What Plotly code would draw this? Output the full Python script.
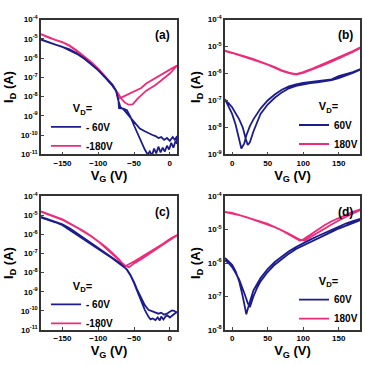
import numpy as np
import plotly.graph_objects as go

BLUE = "#1c1c8c"
PINK = "#ee2a7b"
FONT = "Arial, Liberation Sans, sans-serif"

# ---------- panel (a): V_D = -60 V / -180 V  (log10 of I_D) ----------
a_blue_vg = [-180, -170, -160, -150, -140, -130, -120, -110, -100, -90, -80, -75, -72, -71, -65, -60,
             -55, -50, -45, -40, -35, -31, -28, -25, -22, -19, -16, -13, -10, -7, -4, -1, 2, 5, 8, 10,
             10, 7, 4, 0, -4, -8, -12, -16, -20, -25, -30, -35, -42, -50, -55, -60, -65, -69, -72, -75,
             -80, -90, -100, -110, -120, -130, -140, -150, -160, -170, -180]
a_blue_log = [-5.05, -5.18, -5.28, -5.40, -5.55, -5.75, -6.0, -6.3, -6.62, -7.0, -7.4, -7.7, -8.15, -8.6, -8.62, -8.7,
              -9.05, -9.5, -9.95, -10.35, -10.75, -11.0, -10.85, -11.05, -10.7, -10.95, -10.6, -10.9, -10.65, -10.85, -10.55, -10.75, -10.4, -10.65, -10.3, -10.45,
              -10.05, -10.25, -10.1, -10.3, -10.15, -10.25, -10.1, -10.15, -10.05, -9.98, -9.9, -9.8, -9.66, -9.3, -9.05, -8.85, -8.65, -8.55, -8.2, -7.72,
              -7.45, -7.03, -6.64, -6.32, -6.02, -5.78, -5.58, -5.42, -5.3, -5.17, -5.03]

a_pink_vg = [-180, -170, -160, -150, -140, -130, -120, -110, -100, -90, -80, -75, -72, -68, -60, -50, -40, -33, -20, -10, 0, 10,
             10, 0, -10, -20, -33, -45, -52, -58, -63, -68, -72, -76, -80, -90, -100, -110, -120, -130, -140, -150, -160, -170, -180]
a_pink_log = [-4.75, -4.92, -5.05, -5.17, -5.35, -5.6, -5.88, -6.2, -6.55, -6.95, -7.38, -7.7, -8.1, -8.05, -7.9, -7.75, -7.55, -7.32, -7.05, -6.82, -6.6, -6.38,
              -6.4, -6.8, -7.1, -7.4, -7.69, -8.1, -8.4, -8.42, -8.3, -8.1, -7.85, -7.62, -7.42, -6.97, -6.57, -6.22, -5.9, -5.62, -5.37, -5.18, -5.06, -4.93, -4.76]

# ---------- panel (b): V_D = 60 V / 180 V ----------
b_blue_vg = [-10, -5, 0, 5, 10, 13, 17, 20, 25, 30, 40, 50, 60, 70, 80, 90, 100, 110, 120, 130, 140, 150, 160, 170, 180,
             180, 170, 160, 150, 140, 130, 120, 110, 100, 90, 80, 70, 60, 50, 40, 35, 30, 25, 22, 19, 15, 10, 5, 0, -5, -10]
b_blue_log = [-6.95, -7.2, -7.5, -7.9, -8.4, -8.78, -8.6, -8.3, -7.95, -7.7, -7.3, -7.0, -6.78, -6.6, -6.48, -6.4, -6.35, -6.32, -6.3, -6.27, -6.22, -6.1, -6.03, -5.95, -5.84,
              -5.86, -5.98, -6.08, -6.17, -6.25, -6.3, -6.33, -6.36, -6.4, -6.46, -6.55, -6.7, -6.9, -7.15, -7.5, -7.8, -8.15, -8.55, -8.65, -8.4, -8.0, -7.7, -7.45, -7.25, -7.1, -7.0]

b_pink_vg = [-10, 0, 10, 20, 30, 40, 50, 60, 70, 80, 90, 100, 110, 120, 130, 140, 150, 160, 170, 180,
             180, 170, 160, 150, 140, 130, 120, 110, 100, 90, 80, 70, 60, 50, 40, 30, 20, 10, 0, -10]
b_pink_log = [-5.15, -5.22, -5.3, -5.38, -5.47, -5.56, -5.65, -5.76, -5.88, -5.97, -6.02, -5.95, -5.85, -5.74, -5.64, -5.53, -5.42, -5.3, -5.17, -5.04,
              -5.06, -5.2, -5.33, -5.45, -5.56, -5.67, -5.77, -5.88, -5.98, -6.04, -5.99, -5.9, -5.78, -5.67, -5.58, -5.49, -5.4, -5.32, -5.24, -5.17]

# ---------- panel (c): V_D = -60 V / -180 V ----------
c_blue_vg = [-180, -170, -160, -150, -140, -130, -120, -110, -100, -90, -80, -70, -60, -55, -50, -45, -40, -35, -30, -27, -24, -20, -17, -14, -12, -9, -6, -3, 0, 5, 10,
             10, 6, 3, 0, -4, -8, -12, -16, -20, -25, -30, -35, -40, -45, -50, -55, -60, -70, -80, -90, -100, -110, -120, -130, -140, -150, -160, -170, -180]
c_blue_log = [-5.08, -5.2, -5.33, -5.47, -5.68, -5.95, -6.22, -6.47, -6.72, -6.97, -7.23, -7.5, -7.85, -8.15, -8.55, -9.05, -9.5, -9.95, -10.3, -10.45, -10.4, -10.48, -10.35, -10.5, -10.3, -10.45, -10.3, -10.25, -10.35, -10.2, -10.05,
              -10.1, -10.0, -9.98, -10.05, -10.15, -10.2, -10.1, -10.15, -10.1, -10.05, -9.95, -9.7, -9.35, -8.95, -8.5, -8.12, -7.83, -7.52, -7.26, -7.02, -6.77, -6.52, -6.28, -6.02, -5.75, -5.52, -5.37, -5.23, -5.12]

c_pink_vg = [-180, -170, -160, -150, -140, -130, -120, -110, -100, -90, -80, -70, -64, -60, -50, -40, -30, -20, -10, 0, 10,
             10, 0, -10, -20, -30, -40, -50, -57, -62, -70, -80, -90, -100, -110, -120, -130, -140, -150, -160, -170, -180]
c_pink_log = [-4.8, -4.95, -5.08, -5.22, -5.42, -5.62, -5.84, -6.08, -6.35, -6.65, -6.98, -7.35, -7.68, -7.62, -7.42, -7.2, -6.97, -6.75, -6.5, -6.25, -6.03,
              -6.05, -6.3, -6.55, -6.82, -7.05, -7.3, -7.52, -7.72, -7.65, -7.38, -7.0, -6.67, -6.37, -6.1, -5.86, -5.64, -5.44, -5.24, -5.1, -4.97, -4.82]

# ---------- panel (d): V_D = 60 V / 180 V ----------
d_blue_vg = [-10, -5, 0, 5, 10, 15, 20, 23, 27, 30, 40, 50, 60, 70, 80, 90, 100, 110, 120, 130, 140, 150, 160, 170, 180,
             180, 170, 160, 150, 140, 130, 120, 110, 100, 90, 80, 70, 60, 50, 40, 35, 30, 25, 22, 18, 14, 10, 5, 0, -5, -10]
d_blue_log = [-5.85, -5.95, -6.05, -6.25, -6.55, -7.0, -7.53, -7.3, -7.0, -6.82, -6.45, -6.18, -5.97, -5.8, -5.65, -5.52, -5.4, -5.3, -5.2, -5.1, -5.0, -4.9, -4.82, -4.75, -4.68,
              -4.72, -4.8, -4.88, -4.97, -5.07, -5.17, -5.27, -5.37, -5.47, -5.58, -5.72, -5.88, -6.05, -6.27, -6.55, -6.75, -7.0, -7.32, -7.2, -6.95, -6.7, -6.5, -6.3, -6.12, -6.0, -5.92]

d_pink_vg = [-10, 0, 10, 20, 30, 40, 50, 60, 70, 80, 90, 95, 100, 110, 120, 130, 140, 150, 160, 170, 180,
             180, 170, 160, 150, 140, 130, 120, 110, 102, 95, 90, 80, 70, 60, 50, 40, 30, 20, 10, 0, -10]
d_pink_log = [-4.48, -4.52, -4.57, -4.63, -4.7, -4.77, -4.84, -4.93, -5.03, -5.14, -5.26, -5.33, -5.3, -5.15, -5.0, -4.87, -4.75, -4.65, -4.55, -4.47, -4.4,
              -4.42, -4.52, -4.62, -4.73, -4.85, -4.98, -5.1, -5.23, -5.33, -5.3, -5.25, -5.13, -5.02, -4.92, -4.83, -4.76, -4.69, -4.62, -4.56, -4.5, -4.47]

neg_labels = ["- 60V", "-180V"]
pos_labels = ["60V", "180V"]
panel_tags = ["(a)", "(b)", "(c)", "(d)"]

fig = go.Figure()

panels = [
    (a_blue_vg, a_blue_log, a_pink_vg, a_pink_log, neg_labels, "x", "y", "legend"),
    (b_blue_vg, b_blue_log, b_pink_vg, b_pink_log, pos_labels, "x2", "y2", "legend2"),
    (c_blue_vg, c_blue_log, c_pink_vg, c_pink_log, neg_labels, "x3", "y3", "legend3"),
    (d_blue_vg, d_blue_log, d_pink_vg, d_pink_log, pos_labels, "x4", "y4", "legend4"),
]

for bx, by, px, py, labs, xa, ya, lg in panels:
    fig.add_trace(go.Scatter(x=px, y=np.power(10.0, py), mode="lines", name=labs[1],
                             line=dict(color=PINK, width=1.8), xaxis=xa, yaxis=ya, legend=lg))
    fig.add_trace(go.Scatter(x=bx, y=np.power(10.0, by), mode="lines", name=labs[0],
                             line=dict(color=BLUE, width=1.8), xaxis=xa, yaxis=ya, legend=lg,
                             legendrank=1))

def sup_ticks(lo, hi):
    vals = [10.0 ** e for e in range(lo, hi + 1)]
    txt = ["10<sup>%d</sup>" % e for e in range(lo, hi + 1)]
    return vals, txt

tickfont = dict(family=FONT, size=8, color="black", weight="bold")
titlefont = dict(family=FONT, size=13, color="black", weight="bold")

def xaxis(domain, rng, ticks):
    return dict(domain=domain, range=rng, tickvals=ticks, ticks="inside", ticklen=3,
                showline=True, mirror=True, linecolor="#333", linewidth=1.5,
                showgrid=False, zeroline=False, tickfont=tickfont,
                title=dict(text="V<sub>G</sub> (V)", font=titlefont, standoff=2))

def yaxis(domain, lo, hi, anchor):
    v, t = sup_ticks(lo, hi)
    return dict(domain=domain, type="log", range=[lo, hi], tickvals=v, ticktext=t,
                ticks="inside", ticklen=3, showline=True, mirror=True, linecolor="#333",
                linewidth=1.5, showgrid=False, zeroline=False, tickfont=tickfont, anchor=anchor,
                title=dict(text="I<sub>D</sub> (A)", font=titlefont, standoff=4))

W = 365.0
xa_dom = [41 / W, 177 / W]
xb_dom = [225 / W, 360 / W]
ytop_dom = [1 - 153 / W, 1 - 14 / W]
ybot_dom = [1 - 334 / W, 1 - 196 / W]

def legend(x, y):
    return dict(x=x / W, y=1 - y / W, xanchor="left", yanchor="top", bgcolor="rgba(0,0,0,0)",
                font=dict(family=FONT, size=10, color="black", weight="bold"),
                title=dict(text="V<sub>D</sub>=", side="top center",
                           font=dict(family=FONT, size=11, color="black", weight="bold")),
                itemwidth=30, tracegroupgap=0, traceorder="normal")

fig.update_layout(
    width=365, height=365, margin=dict(l=0, r=0, t=0, b=0),
    paper_bgcolor="white", plot_bgcolor="white", showlegend=True,
    xaxis=xaxis(xa_dom, [-180, 10], [-150, -100, -50, 0]) | dict(anchor="y"),
    yaxis=yaxis(ytop_dom, -11, -4, "x"),
    xaxis2=xaxis(xb_dom, [-10, 180], [0, 50, 100, 150]) | dict(anchor="y2"),
    yaxis2=yaxis(ytop_dom, -9, -4, "x2"),
    xaxis3=xaxis(xa_dom, [-180, 10], [-150, -100, -50, 0]) | dict(anchor="y3"),
    yaxis3=yaxis(ybot_dom, -11, -4, "x3"),
    xaxis4=xaxis(xb_dom, [-10, 180], [0, 50, 100, 150]) | dict(anchor="y4"),
    yaxis4=yaxis(ybot_dom, -8, -4, "x4"),
    legend=legend(46, 95),
    legend2=legend(294, 93),
    legend3=legend(46, 278),
    legend4=legend(294, 273),
)

for tag, xr, yr in zip(panel_tags, ["x", "x2", "x3", "x4"], ["y", "y2", "y3", "y4"]):
    fig.add_annotation(text=tag, xref=xr + " domain", yref=yr + " domain", x=0.96, y=0.95,
                       xanchor="right", yanchor="top", showarrow=False,
                       font=dict(family=FONT, size=12, color="black", weight="bold"))

fig.write_html("out.html")
